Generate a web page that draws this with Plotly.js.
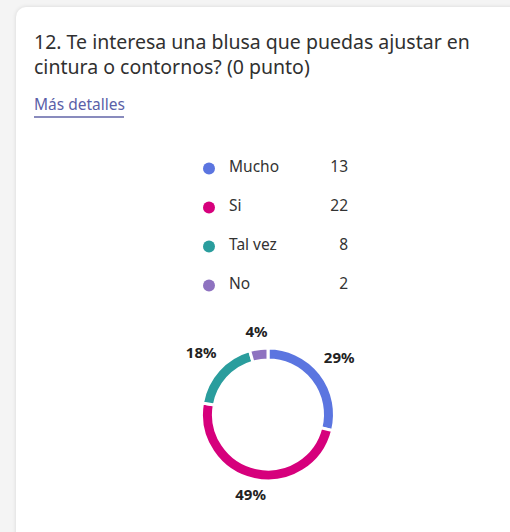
<!DOCTYPE html>
<html>
<head>
<meta charset="utf-8">
<script src="https://cdn.plot.ly/plotly-3.0.1.min.js"></script>
<style>
  html, body { margin:0; padding:0; width:510px; height:532px; overflow:hidden; background:#f4f4f4; }
  #card { position:absolute; left:16px; top:7px; width:520px; height:560px; background:#fff;
          border-radius:10px; box-shadow:0 0 4px rgba(0,0,0,0.12); }
  #chart { position:absolute; left:0; top:0; width:510px; height:532px; }
</style>
</head>
<body>
<div id="card"></div>
<div id="chart"></div>
<script>
const categories = ["Mucho", "Si", "Tal vez", "No"];
const counts = [13, 22, 8, 2];
const colors = ["#5b75e0", "#d6007c", "#2a9d9d", "#8e72c0"];
const titleText = "12. Te interesa una blusa que puedas ajustar en<br>cintura o contornos? (0 punto)";
const linkText = "Más detalles";

const W = 510, H = 532;
const font = "'Noto Sans', 'Open Sans', sans-serif";
const rowIdx = categories.map((c, i) => i);
const cx = 268, cy = 414.5;

function dom(r) {
  return { x: [(cx - r) / W, (cx + r) / W], y: [(H - cy - r) / H, (H - cy + r) / H] };
}

// percentages and slice mid-angles derived from the counts
const total = counts.reduce((a, b) => a + b, 0);
const pctText = counts.map(v => Math.round(100 * v / total) + "%");
let acc = 0;
const midAngles = counts.map(v => { const m = (acc + v / 2) / total * 360; acc += v; return m; });
// label radius: ring edge + gap + half-extent of the text box along the radial direction
const labelR = midAngles.map((a, i) => {
  const t = a * Math.PI / 180;
  const halfW = pctText[i].length * 4.6, halfH = 4;
  return 77 + halfW * Math.abs(Math.sin(t)) + halfH * Math.abs(Math.cos(t));
});

const pie = {
  type: "pie",
  labels: categories,
  values: counts,
  sort: false,
  direction: "clockwise",
  rotation: 0,
  hole: 0.82,
  marker: { colors: colors, line: { color: "#ffffff", width: 3 } },
  textinfo: "none",
  showlegend: false,
  hoverinfo: "label+value+percent",
  domain: dom(66.5)
};

const pctLabels = {
  type: "scatterpolar", mode: "text",
  r: labelR, theta: midAngles, text: pctText,
  textposition: "middle center",
  textfont: { family: font, size: 15, color: "#222", weight: "bold" },
  showlegend: false, hoverinfo: "skip", cliponaxis: false,
  subplot: "polar"
};

const dots = {
  type: "scatter", mode: "markers",
  x: categories.map(() => 9), y: rowIdx,
  marker: { color: colors, size: 12 },
  showlegend: false, hoverinfo: "skip", cliponaxis: false
};
const labels = {
  type: "scatter", mode: "text",
  x: categories.map(() => 29), y: rowIdx,
  text: categories, textposition: "middle right",
  textfont: { family: font, size: 15.5, color: "#333" },
  showlegend: false, hoverinfo: "skip", cliponaxis: false
};
const nums = {
  type: "scatter", mode: "text",
  x: categories.map(() => 148), y: rowIdx,
  text: counts.map(String), textposition: "middle left",
  textfont: { family: font, size: 15.5, color: "#333" },
  showlegend: false, hoverinfo: "skip", cliponaxis: false
};

const layout = {
  width: W, height: H,
  margin: { l: 0, r: 0, t: 0, b: 0 },
  paper_bgcolor: "rgba(0,0,0,0)",
  plot_bgcolor: "rgba(0,0,0,0)",
  title: {
    text: titleText,
    x: 34 / W, xanchor: "left", xref: "paper",
    y: 1 - 49 / H, yanchor: "top", yref: "container",
    font: { family: font, size: 19.5, color: "#303030" }
  },
  xaxis: { domain: [200 / W, 360 / W], range: [0, 160], visible: false, fixedrange: true },
  yaxis: { domain: [(H - 305) / H, (H - 149) / H], range: [3.5, -0.5], visible: false, fixedrange: true },
  polar: {
    domain: dom(110),
    bgcolor: "rgba(0,0,0,0)",
    radialaxis: { range: [0, 110], visible: false },
    angularaxis: { rotation: 90, direction: "clockwise", visible: false }
  },
  annotations: [{
    text: linkText, xref: "paper", yref: "paper",
    x: 32 / W, xanchor: "left", y: 1 - 104 / H, yanchor: "middle",
    showarrow: false, font: { family: font, size: 15.5, color: "#5b5fa8" }
  }],
  shapes: [{
    type: "line", xref: "paper", yref: "paper",
    x0: 34 / W, x1: 124 / W, y0: 1 - 117 / H, y1: 1 - 117 / H,
    line: { color: "#6264a7", width: 1.5 }
  }]
};

Plotly.newPlot("chart", [pie, pctLabels, dots, labels, nums], layout, { displayModeBar: false, staticPlot: true });
</script>
</body>
</html>
